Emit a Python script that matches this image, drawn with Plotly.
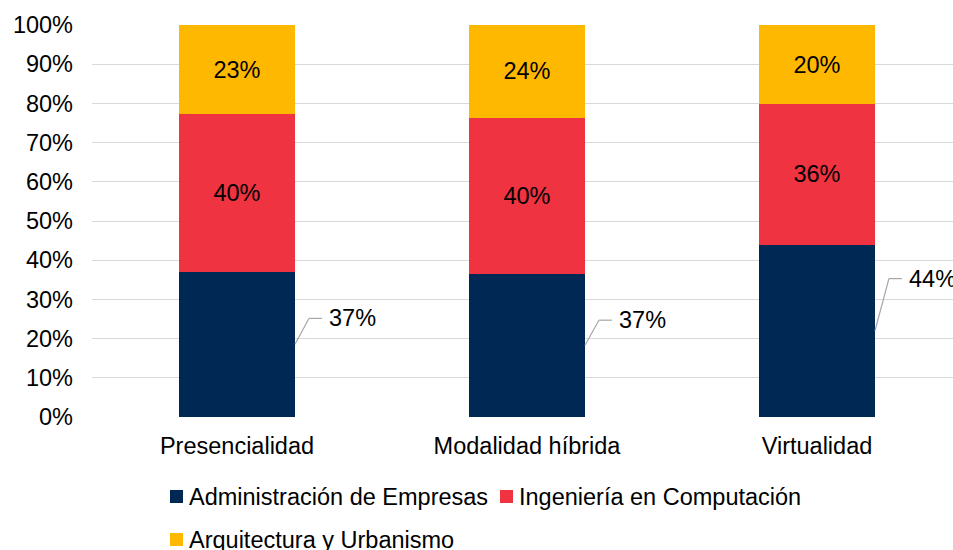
import plotly.graph_objects as go

categories = ["Presencialidad", "Modalidad híbrida", "Virtualidad"]
series_names = ["Administración de Empresas", "Ingeniería en Computación", "Arquitectura y Urbanismo"]
admin_values = [37.1, 36.6, 44.0]
ing_values = [40.1, 39.8, 35.8]
arq_values = [22.8, 23.6, 20.2]
y_ticks = [0, 10, 20, 30, 40, 50, 60, 70, 80, 90, 100]

colors = ["#002855", "#EF3340", "#FFB800"]
FONT = "Liberation Sans, Arial, sans-serif"
FS = 23.5

# plot area in pixels (used to place legend items)
L, R, T, B = 92, 953, 25, 417
def px_x(px):
    return (px - L) / (R - L)
def px_y(py):
    return (B - py) / (B - T)

fig = go.Figure()
x_idx = list(range(len(categories)))
for name, vals, col, show_text in [
    (series_names[0], admin_values, colors[0], False),
    (series_names[1], ing_values, colors[1], True),
    (series_names[2], arq_values, colors[2], True),
]:
    fig.add_trace(go.Bar(
        x=x_idx, y=vals, name=name, marker=dict(color=col, line=dict(width=0)),
        width=0.4,
        text=[f"{v:.0f}%" for v in vals] if show_text else None,
        textposition="inside" if show_text else "none",
        insidetextanchor="middle",
        textfont=dict(family=FONT, size=FS, color="#000000"),
        hoverinfo="skip",
        showlegend=False,
    ))

# callouts for the navy segments
rise = [6.6, 6.4, 13.3]  # leader rise in % units (position styling)
for i, v in enumerate(admin_values):
    y0 = v / 2
    y1 = y0 + rise[i]
    x0 = i + 0.2
    x1 = x0 + 0.048
    x2 = x1 + 0.045
    fig.add_shape(type="line", x0=x0, y0=y0, x1=x1, y1=y1, xref="x", yref="y",
                  line=dict(color="#A6A6A6", width=1.2))
    fig.add_shape(type="line", x0=x1, y0=y1, x1=x2, y1=y1, xref="x", yref="y",
                  line=dict(color="#A6A6A6", width=1.2))
    fig.add_annotation(x=x2, y=y1, xref="x", yref="y", text=f"{v:.0f}%",
                       showarrow=False, xanchor="left", yanchor="middle", xshift=5,
                       font=dict(family=FONT, size=FS, color="#000000"))

# legend drawn as squares + labels
legend_pos = [(170, 496.5), (500, 496.5), (170, 539.5)]
for (sx, sy), name, col in zip(legend_pos, series_names, colors):
    fig.add_shape(type="rect", xref="paper", yref="paper",
                  x0=px_x(sx), x1=px_x(sx + 13), y0=px_y(sy - 6.5), y1=px_y(sy + 6.5),
                  fillcolor=col, line=dict(width=0))
    fig.add_annotation(xref="paper", yref="paper", x=px_x(sx + 17), y=px_y(sy),
                       text=name, showarrow=False, xanchor="left", yanchor="middle",
                       font=dict(family=FONT, size=FS, color="#000000"))

fig.update_layout(
    barmode="stack",
    width=953, height=550,
    margin=dict(l=L, r=953 - R, t=T, b=550 - B, autoexpand=False),
    plot_bgcolor="white", paper_bgcolor="white",
    font=dict(family=FONT, size=FS, color="#000000"),
    showlegend=False,
    xaxis=dict(tickmode="array", tickvals=x_idx, ticktext=categories,
               range=[-0.5, 2.5 - 9 / 290], showgrid=False, zeroline=False,
               showline=False, ticks="", automargin=False, ticklabelstandoff=12,
               tickfont=dict(family=FONT, size=FS, color="#000000")),
    yaxis=dict(range=[0, 100], tickvals=y_ticks, ticktext=[f"{t}%" for t in y_ticks],
               showgrid=True, gridcolor="#D9D9D9", gridwidth=1, zeroline=False,
               showline=False, ticks="", automargin=False, ticklabelstandoff=18,
               tickfont=dict(family=FONT, size=FS, color="#000000")),
)

fig.write_html("out.html", config={"displayModeBar": False},
               post_script="document.body.style.margin='0';document.body.style.overflow='hidden';")
